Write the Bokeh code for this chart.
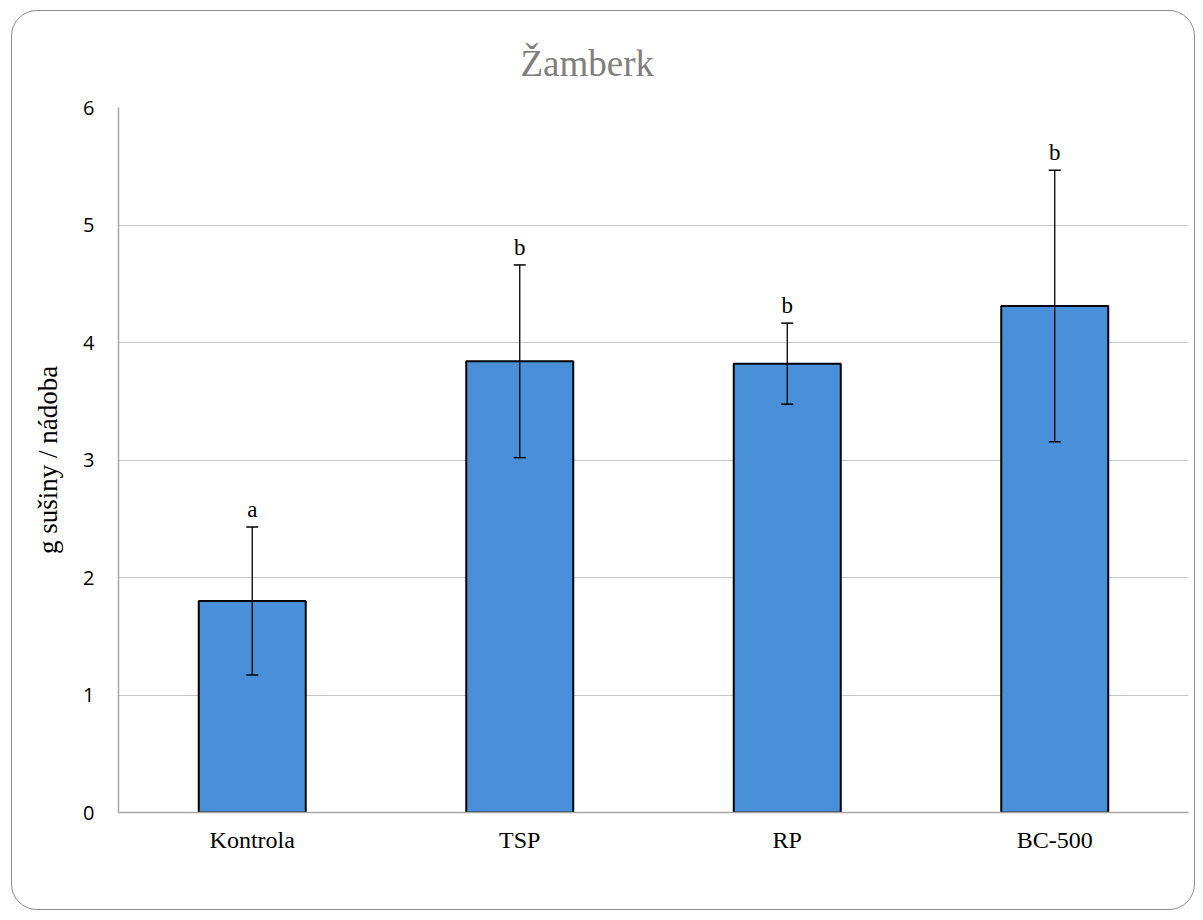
from bokeh.plotting import figure
from bokeh.models import ColumnDataSource, Whisker, TeeHead, Range1d, FactorRange, FixedTicker
from bokeh.core.properties import value
from bokeh.embed import file_html
from bokeh.resources import INLINE

# data
categories = ["Kontrola", "TSP", "RP", "BC-500"]
means = [1.80, 3.84, 3.82, 4.31]
errors = [0.63, 0.82, 0.345, 1.155]
letters = ["a", "b", "b", "b"]
y_ticks = [0, 1, 2, 3, 4, 5, 6]

upper = [m + e for m, e in zip(means, errors)]
lower = [m - e for m, e in zip(means, errors)]
label_y = [u + 0.15 for u in upper]
src = ColumnDataSource(dict(cat=categories, mean=means, upper=upper, lower=lower,
                            letter=letters, label_y=label_y))

p = figure(width=1184, height=900, output_backend="svg", toolbar_location=None,
           x_range=FactorRange(*categories), y_range=Range1d(0, 6),
           title="Žamberk")
p.margin = (10, 0, 0, 11)
p.min_border_left = 106
p.min_border_right = 8
p.min_border_top = 96
p.min_border_bottom = 99
p.background_fill_color = None
p.border_fill_color = None
p.outline_line_color = None
p.styles = {"border": "1.5px solid #8c8c8c", "border-radius": "26px"}

p.title.align = "left"
p.title.offset = 402
p.title.text_font = "Liberation Serif"
p.title.text_font_size = "37px"
p.title.text_font_style = "normal"
p.title.text_color = "#7f7f7f"
p.title.standoff = 48

p.vbar(x="cat", top="mean", width=0.4, source=src, fill_color="#4a90d9",
       line_color="black", line_width=2)

w = Whisker(base="cat", upper="upper", lower="lower", source=src,
            line_color="black", line_width=1.3, level="overlay",
            upper_head=TeeHead(size=12, line_color="black", line_width=1.5),
            lower_head=TeeHead(size=12, line_color="black", line_width=1.5))
p.add_layout(w)

p.text(x="cat", y="label_y", text="letter", source=src, text_align="center",
       text_baseline="alphabetic", text_font=value("Liberation Serif"),
       text_font_size="23px", text_color="black")

p.xgrid.grid_line_color = None
p.ygrid.grid_line_color = "#c6c6c6"
p.ygrid.grid_line_width = 1

p.yaxis.ticker = FixedTicker(ticks=y_ticks)
p.yaxis.major_tick_line_color = None
p.yaxis.minor_tick_line_color = None
p.yaxis.axis_line_color = "#a6a6a6"
p.yaxis.axis_line_width = 1.5
p.yaxis.major_label_text_font = "Open Sans"
p.yaxis.major_label_text_font_size = "20px"
p.yaxis.major_label_text_color = "black"
p.yaxis.major_label_standoff = 18
p.yaxis.axis_label = "g sušiny / nádoba"
p.yaxis.axis_label_text_font = "Liberation Serif"
p.yaxis.axis_label_text_font_size = "27px"
p.yaxis.axis_label_text_font_style = "normal"
p.yaxis.axis_label_text_color = "black"
p.yaxis.axis_label_standoff = 17

p.xaxis.major_tick_line_color = None
p.xaxis.minor_tick_line_color = None
p.xaxis.axis_line_color = "#a6a6a6"
p.xaxis.axis_line_width = 1.5
p.xaxis.major_label_text_font = "Liberation Serif"
p.xaxis.major_label_text_font_size = "24px"
p.xaxis.major_label_text_color = "black"
p.xaxis.major_label_standoff = 8

open("out.html", "w").write(file_html(p, INLINE))
